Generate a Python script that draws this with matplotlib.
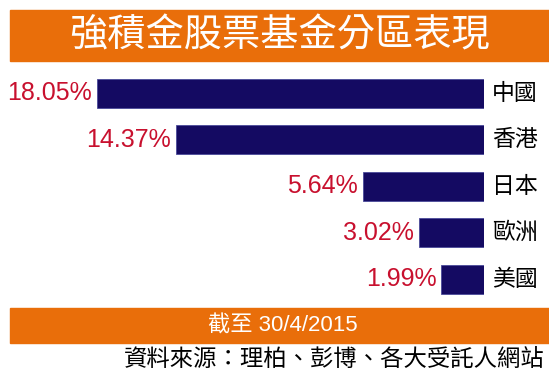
import matplotlib
matplotlib.use('Agg')
import matplotlib.pyplot as plt
from matplotlib.patches import Rectangle

# data
regions = ['中國', '香港', '日本', '歐洲', '美國']
returns = [18.05, 14.37, 5.64, 3.02, 1.99]
value_labels = ['18.05%', '14.37%', '5.64%', '3.02%', '1.99%']

title = '強積金股票基金分區表現'
date_note = '截至 30/4/2015'
source = '資料來源：理柏、彭博、各大受託人網站'

orange = '#e96e0a'
navy = '#140a62'
red = '#c8102e'

W, H = 549, 383
fig = plt.figure(figsize=(W / 100, H / 100), dpi=100)
fig.patch.set_facecolor('white')

def fx(px):
    return px / W

def fy(py):
    # pixel from top -> figure fraction from bottom
    return 1 - py / H

# banners
fig.patches.append(Rectangle((fx(10), fy(61)), fx(539), (61 - 10) / H,
                             transform=fig.transFigure, color=orange, zorder=0))
fig.patches.append(Rectangle((fx(10), fy(343)), fx(539), (343 - 308) / H,
                             transform=fig.transFigure, color=orange, zorder=0))

cjk = ['Noto Sans CJK TC', 'DejaVu Sans']
fig.text(fx(280), fy(36), title, color='white', fontsize=27.5, family=cjk,
         weight='light', ha='center', va='center')
fig.text(fx(283), fy(326), date_note, color='white', fontsize=16,
         family=['Liberation Sans', 'Noto Sans CJK TC'], ha='center', va='center')
fig.text(fx(545), fy(359), source, color='black', fontsize=16.8, family=cjk,
         ha='right', va='center')

# bar axes: right edge at 484px, 21.44 px per percent
ax = fig.add_axes([fx(10), fy(302.2), fx(474), 231.9 / H])
ax.set_xlim(474 / 21.44, 0)
ax.set_ylim(len(regions) - 0.5, -0.5)
ax.axis('off')

ypos = list(range(len(regions)))
ax.barh(ypos, returns, height=0.625, color=navy, edgecolor='#4a4a9a',
        linewidth=0.6)

for i, (v, lab, reg) in enumerate(zip(returns, value_labels, regions)):
    ax.annotate(lab, xy=(v, i), xytext=(-5, 0), textcoords='offset pixels',
                ha='right', va='center', color=red, fontsize=18,
                family='Liberation Sans')
    ax.annotate(reg, xy=(0, i), xytext=(8, 0), textcoords='offset pixels',
                ha='left', va='center', color='black', fontsize=16.5,
                family=cjk)

fig.savefig('out.png', dpi=100)
